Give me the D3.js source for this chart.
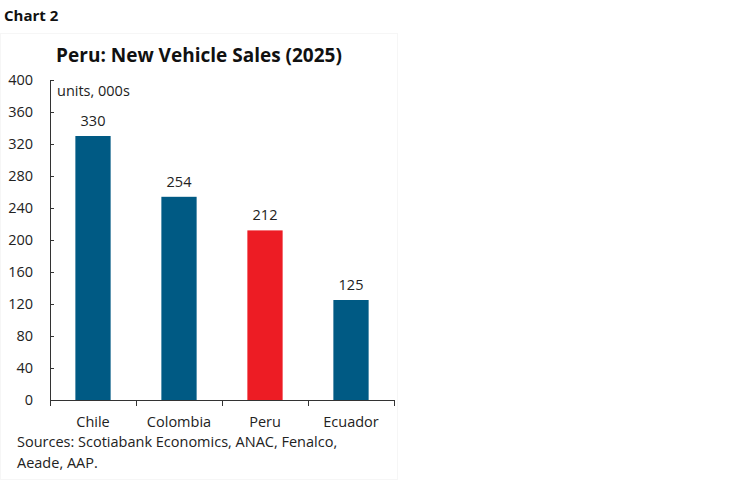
<!DOCTYPE html>
<html>
<head>
<meta charset="utf-8">
<script src="https://cdn.jsdelivr.net/npm/d3@7"></script>
<style>
  body { margin: 0; background: #fff; }
  text { font-family: "Open Sans", sans-serif; fill: #222; }
</style>
</head>
<body>
<div id="chart"></div>
<script>
// Chart data
const countries = ["Chile", "Colombia", "Peru", "Ecuador"];
const sales = [330, 254, 212, 125];
const barColors = ["#005a84", "#005a84", "#ed1c24", "#005a84"];
const yTicks = [0, 40, 80, 120, 160, 200, 240, 280, 320, 360, 400];

const width = 749, height = 482;
const plot = {left: 50, right: 394, top: 80, bottom: 400};

let svg = d3.select("#chart")
    .append("svg")
    .attr("width", width)
    .attr("height", height);

// Faint frame around the chart
svg.append("rect")
    .attr("x", 0.5).attr("y", 33.5)
    .attr("width", 397).attr("height", 446)
    .attr("fill", "none")
    .attr("stroke", "#f6f6f6");

svg.append("text")
    .attr("x", 4).attr("y", 21)
    .style("font-size", "15px")
    .style("font-weight", "bold")
    .style("fill", "#111")
    .text("Chart 2");

svg.append("text")
    .attr("x", 199).attr("y", 62)
    .style("text-anchor", "middle")
    .style("font-size", "19px")
    .style("font-weight", "bold")
    .style("fill", "#111")
    .text("Peru: New Vehicle Sales (2025)");

// Scales
let x = d3.scaleBand()
    .domain(countries)
    .range([plot.left, plot.right])
    .paddingInner(0.59)
    .paddingOuter(0.295);

let y = d3.scaleLinear()
    .domain([0, 400])
    .range([plot.bottom, plot.top]);

// Y axis, ticks pointing inward
let yAxis = svg.append("g")
    .attr("transform", `translate(${plot.left},0)`)
    .call(d3.axisRight(y).tickValues(yTicks).tickSize(4).tickFormat(""));
yAxis.select(".domain").attr("stroke", "#333");
yAxis.selectAll(".tick line").attr("stroke", "#333");

svg.append("g").selectAll("text")
    .data(yTicks)
    .enter()
    .append("text")
    .attr("x", 33)
    .attr("y", d => y(d))
    .attr("dy", "0.35em")
    .style("text-anchor", "end")
    .style("font-size", "14.5px")
    .text(d => d);

// Bars
svg.append("g").selectAll("rect")
    .data(countries)
    .enter()
    .append("rect")
    .attr("x", d => x(d))
    .attr("y", (d, i) => y(sales[i]))
    .attr("width", x.bandwidth())
    .attr("height", (d, i) => y(0) - y(sales[i]))
    .attr("fill", (d, i) => barColors[i]);

// Value labels
svg.append("g").selectAll("text")
    .data(countries)
    .enter()
    .append("text")
    .attr("x", d => x(d) + x.bandwidth() / 2)
    .attr("y", (d, i) => y(sales[i]) - 10)
    .style("text-anchor", "middle")
    .style("font-size", "14.5px")
    .text((d, i) => sales[i]);

// X axis with ticks at category boundaries
let step = x.step();
let boundaries = d3.range(countries.length + 1).map(i => plot.left + i * step);
let xAxis = svg.append("g");
xAxis.append("line")
    .attr("x1", plot.left).attr("x2", plot.right)
    .attr("y1", plot.bottom + 0.5).attr("y2", plot.bottom + 0.5)
    .attr("stroke", "#333");
xAxis.selectAll(".bt")
    .data(boundaries)
    .enter()
    .append("line")
    .attr("x1", d => d + 0.5).attr("x2", d => d + 0.5)
    .attr("y1", plot.bottom).attr("y2", plot.bottom + 6)
    .attr("stroke", "#333");

svg.append("g").selectAll("text")
    .data(countries)
    .enter()
    .append("text")
    .attr("x", d => x(d) + x.bandwidth() / 2)
    .attr("y", 427)
    .style("text-anchor", "middle")
    .style("font-size", "14.5px")
    .text(d => d);

svg.append("text")
    .attr("x", 57).attr("y", 96)
    .style("font-size", "14.5px")
    .text("units, 000s");

// Sources note
svg.append("text")
    .attr("x", 17).attr("y", 447)
    .style("font-size", "14.5px")
    .text("Sources: Scotiabank Economics, ANAC, Fenalco,");
svg.append("text")
    .attr("x", 17).attr("y", 468)
    .style("font-size", "14.5px")
    .text("Aeade, AAP.");
</script>
</body>
</html>
